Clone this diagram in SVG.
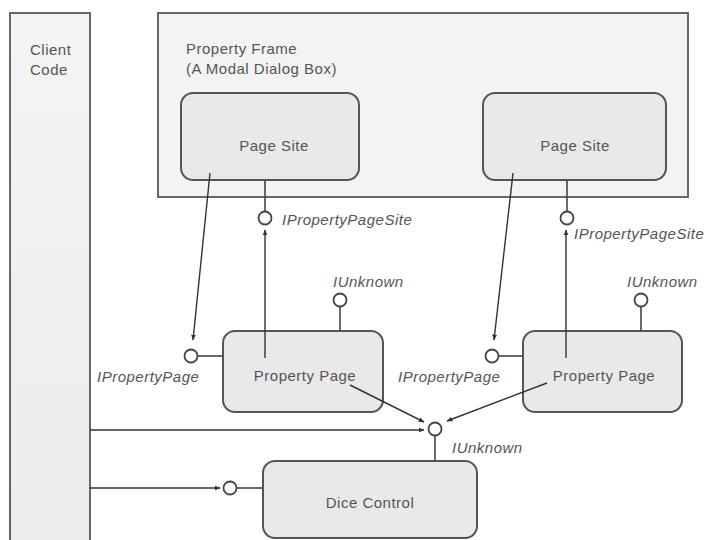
<svg xmlns="http://www.w3.org/2000/svg" width="709" height="540" viewBox="0 0 709 540">
<defs>
<marker id="ah" viewBox="0 0 10 10" refX="9" refY="5" markerWidth="6" markerHeight="6" orient="auto" markerUnits="userSpaceOnUse">
<path d="M0,1 L10,5 L0,9 z" fill="#333"/>
</marker>
<linearGradient id="bar" x1="0" y1="0" x2="0" y2="1">
<stop offset="0" stop-color="#f4f4f4"/>
<stop offset="1" stop-color="#ececec"/>
</linearGradient>
</defs>
<style>
.frame{fill:#f3f3f3;stroke:#666;stroke-width:2}
.box{fill:#e9e9e9;stroke:#555;stroke-width:2}
.t{font-family:"Liberation Sans",Arial,sans-serif;font-size:15px;fill:#555;letter-spacing:0.5px}
.i{font-family:"Liberation Sans",Arial,sans-serif;font-size:15px;font-style:italic;fill:#555;letter-spacing:0.5px}
.c{text-anchor:middle}
.ln{stroke:#444;stroke-width:1.6;fill:none}
.arr{stroke:#333;stroke-width:1.4;fill:none;marker-end:url(#ah)}
.lol{fill:#fff;stroke:#444;stroke-width:1.8}
</style>
<rect width="709" height="540" fill="#fff"/>
<g id="client">
<rect x="10" y="13" width="80" height="540" fill="url(#bar)" stroke="#666" stroke-width="2"/>
<text class="t" x="30" y="55">Client</text>
<text class="t" x="30" y="75">Code</text>
</g>
<g id="frame">
<rect class="frame" x="158" y="13" width="530" height="184"/>
<text class="t" x="186" y="54">Property Frame</text>
<text class="t" x="186" y="74">(A Modal Dialog Box)</text>
</g>
<g id="site1">
<rect class="box" x="181" y="93" width="178" height="87" rx="12"/>
<text class="t c" x="274" y="151">Page Site</text>
</g>
<g id="site2">
<rect class="box" x="483" y="93" width="183" height="87" rx="12"/>
<text class="t c" x="575" y="151">Page Site</text>
</g>
<g id="page1">
<rect class="box" x="223" y="331" width="160" height="81" rx="12"/>
<text class="t c" x="305" y="381">Property Page</text>
</g>
<g id="page2">
<rect class="box" x="523" y="331" width="159" height="81" rx="12"/>
<text class="t c" x="604" y="381">Property Page</text>
</g>
<g id="dice">
<rect class="box" x="263" y="461" width="214" height="77" rx="12"/>
<text class="t c" x="370" y="508">Dice Control</text>
</g>
<g id="connectors">
<line class="ln" x1="265" y1="180" x2="265" y2="211"/>
<line class="ln" x1="567" y1="180" x2="567" y2="211"/>
<line class="ln" x1="340" y1="307" x2="340" y2="331"/>
<line class="ln" x1="641" y1="307" x2="641" y2="331"/>
<line class="ln" x1="198" y1="356" x2="223" y2="356"/>
<line class="ln" x1="499" y1="356" x2="523" y2="356"/>
<line class="ln" x1="435" y1="436" x2="435" y2="461"/>
<line class="ln" x1="237" y1="488" x2="263" y2="488"/>
<line class="arr" x1="265" y1="358" x2="265" y2="230"/>
<line class="arr" x1="566" y1="358" x2="566" y2="230"/>
<line class="arr" x1="210" y1="173" x2="193" y2="340"/>
<line class="arr" x1="513" y1="173" x2="494" y2="340"/>
<line class="arr" x1="350" y1="385" x2="424" y2="422"/>
<line class="arr" x1="547" y1="383" x2="447" y2="421"/>
<line class="arr" x1="90" y1="430" x2="424" y2="430"/>
<line class="arr" x1="90" y1="488" x2="220" y2="488"/>
<circle class="lol" cx="265" cy="218" r="6.5"/>
<circle class="lol" cx="567" cy="218" r="6.5"/>
<circle class="lol" cx="340" cy="300" r="6.5"/>
<circle class="lol" cx="641" cy="300" r="6.5"/>
<circle class="lol" cx="191" cy="356" r="6.5"/>
<circle class="lol" cx="492" cy="356" r="6.5"/>
<circle class="lol" cx="435" cy="429" r="6.5"/>
<circle class="lol" cx="230" cy="488" r="6.5"/>
<text class="i" x="282" y="225">IPropertyPageSite</text>
<text class="i" x="574" y="239">IPropertyPageSite</text>
<text class="i" x="333" y="287">IUnknown</text>
<text class="i" x="627" y="287">IUnknown</text>
<text class="i" x="97" y="382">IPropertyPage</text>
<text class="i" x="398" y="382">IPropertyPage</text>
<text class="i" x="452" y="453">IUnknown</text>
</g>
</svg>
